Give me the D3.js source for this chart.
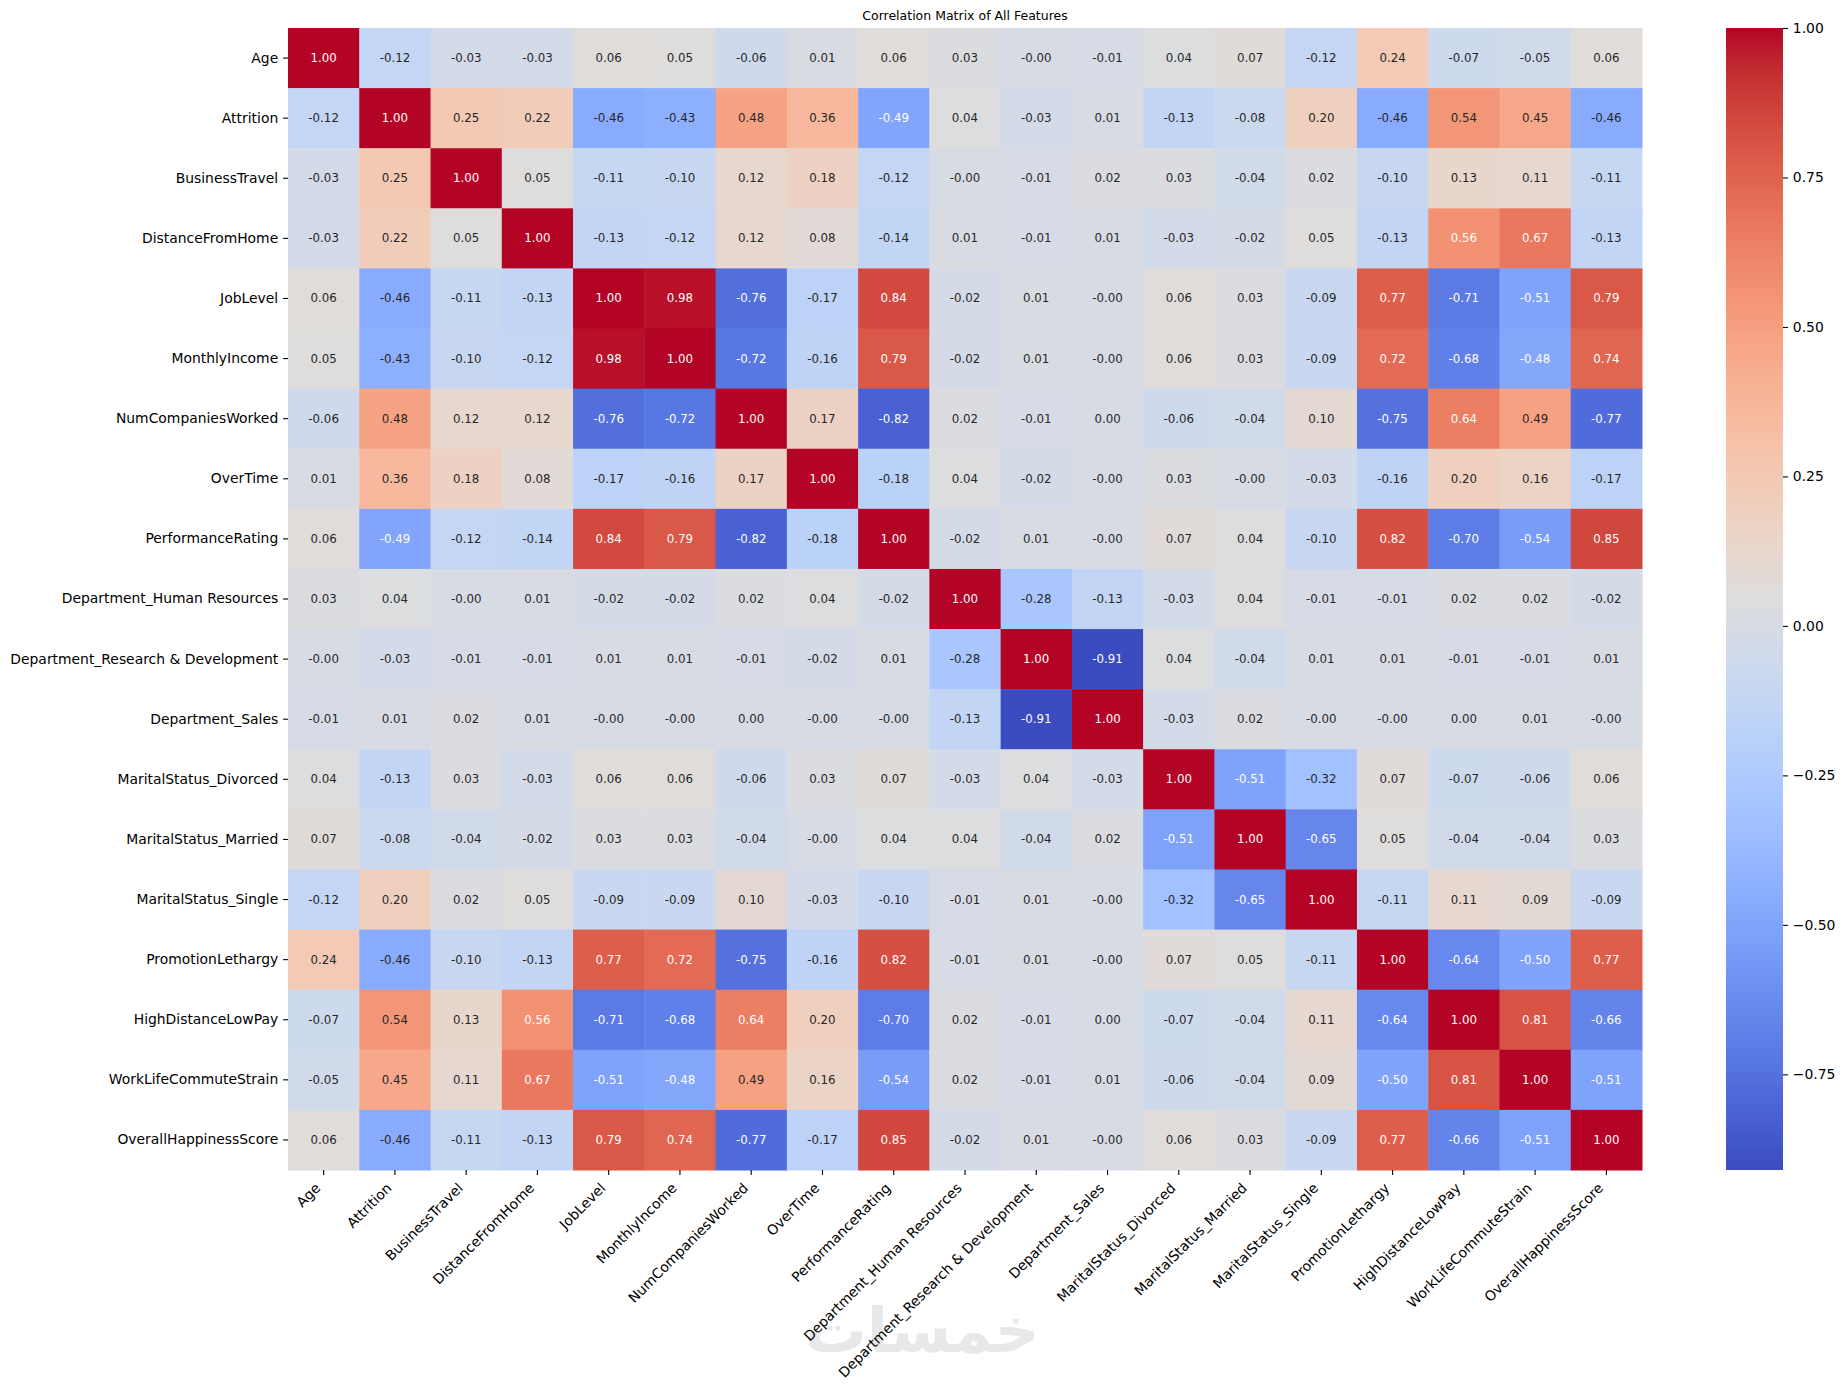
<!DOCTYPE html>
<html>
<head>
<meta charset="utf-8">
<script src="https://cdn.jsdelivr.net/npm/d3@7"></script>
<style>
  body { margin: 0; background: white; }
  svg { display: block; font-family: "DejaVu Sans", sans-serif; }
</style>
</head>
<body>
<svg></svg>
<script>
const features = [
  "Age", "Attrition", "BusinessTravel", "DistanceFromHome", "JobLevel",
  "MonthlyIncome", "NumCompaniesWorked", "OverTime", "PerformanceRating",
  "Department_Human Resources", "Department_Research & Development",
  "Department_Sales", "MaritalStatus_Divorced", "MaritalStatus_Married",
  "MaritalStatus_Single", "PromotionLethargy", "HighDistanceLowPay",
  "WorkLifeCommuteStrain", "OverallHappinessScore"
];

const corr = [
  [1.00, -0.12, -0.03, -0.03, 0.06, 0.05, -0.06, 0.01, 0.06, 0.03, -0.00, -0.01, 0.04, 0.07, -0.12, 0.24, -0.07, -0.05, 0.06],
  [-0.12, 1.00, 0.25, 0.22, -0.46, -0.43, 0.48, 0.36, -0.49, 0.04, -0.03, 0.01, -0.13, -0.08, 0.20, -0.46, 0.54, 0.45, -0.46],
  [-0.03, 0.25, 1.00, 0.05, -0.11, -0.10, 0.12, 0.18, -0.12, -0.00, -0.01, 0.02, 0.03, -0.04, 0.02, -0.10, 0.13, 0.11, -0.11],
  [-0.03, 0.22, 0.05, 1.00, -0.13, -0.12, 0.12, 0.08, -0.14, 0.01, -0.01, 0.01, -0.03, -0.02, 0.05, -0.13, 0.56, 0.67, -0.13],
  [0.06, -0.46, -0.11, -0.13, 1.00, 0.98, -0.76, -0.17, 0.84, -0.02, 0.01, -0.00, 0.06, 0.03, -0.09, 0.77, -0.71, -0.51, 0.79],
  [0.05, -0.43, -0.10, -0.12, 0.98, 1.00, -0.72, -0.16, 0.79, -0.02, 0.01, -0.00, 0.06, 0.03, -0.09, 0.72, -0.68, -0.48, 0.74],
  [-0.06, 0.48, 0.12, 0.12, -0.76, -0.72, 1.00, 0.17, -0.82, 0.02, -0.01, 0.00, -0.06, -0.04, 0.10, -0.75, 0.64, 0.49, -0.77],
  [0.01, 0.36, 0.18, 0.08, -0.17, -0.16, 0.17, 1.00, -0.18, 0.04, -0.02, -0.00, 0.03, -0.00, -0.03, -0.16, 0.20, 0.16, -0.17],
  [0.06, -0.49, -0.12, -0.14, 0.84, 0.79, -0.82, -0.18, 1.00, -0.02, 0.01, -0.00, 0.07, 0.04, -0.10, 0.82, -0.70, -0.54, 0.85],
  [0.03, 0.04, -0.00, 0.01, -0.02, -0.02, 0.02, 0.04, -0.02, 1.00, -0.28, -0.13, -0.03, 0.04, -0.01, -0.01, 0.02, 0.02, -0.02],
  [-0.00, -0.03, -0.01, -0.01, 0.01, 0.01, -0.01, -0.02, 0.01, -0.28, 1.00, -0.91, 0.04, -0.04, 0.01, 0.01, -0.01, -0.01, 0.01],
  [-0.01, 0.01, 0.02, 0.01, -0.00, -0.00, 0.00, -0.00, -0.00, -0.13, -0.91, 1.00, -0.03, 0.02, -0.00, -0.00, 0.00, 0.01, -0.00],
  [0.04, -0.13, 0.03, -0.03, 0.06, 0.06, -0.06, 0.03, 0.07, -0.03, 0.04, -0.03, 1.00, -0.51, -0.32, 0.07, -0.07, -0.06, 0.06],
  [0.07, -0.08, -0.04, -0.02, 0.03, 0.03, -0.04, -0.00, 0.04, 0.04, -0.04, 0.02, -0.51, 1.00, -0.65, 0.05, -0.04, -0.04, 0.03],
  [-0.12, 0.20, 0.02, 0.05, -0.09, -0.09, 0.10, -0.03, -0.10, -0.01, 0.01, -0.00, -0.32, -0.65, 1.00, -0.11, 0.11, 0.09, -0.09],
  [0.24, -0.46, -0.10, -0.13, 0.77, 0.72, -0.75, -0.16, 0.82, -0.01, 0.01, -0.00, 0.07, 0.05, -0.11, 1.00, -0.64, -0.50, 0.77],
  [-0.07, 0.54, 0.13, 0.56, -0.71, -0.68, 0.64, 0.20, -0.70, 0.02, -0.01, 0.00, -0.07, -0.04, 0.11, -0.64, 1.00, 0.81, -0.66],
  [-0.05, 0.45, 0.11, 0.67, -0.51, -0.48, 0.49, 0.16, -0.54, 0.02, -0.01, 0.01, -0.06, -0.04, 0.09, -0.50, 0.81, 1.00, -0.51],
  [0.06, -0.46, -0.11, -0.13, 0.79, 0.74, -0.77, -0.17, 0.85, -0.02, 0.01, -0.00, 0.06, 0.03, -0.09, 0.77, -0.66, -0.51, 1.00]
];

const colorbarTicks = [-0.75, -0.5, -0.25, 0, 0.25, 0.5, 0.75, 1.0];

// coolwarm (Moreland) control colours
const coolwarm = [
  [59, 76, 192], [68, 90, 204], [77, 104, 215], [87, 117, 225], [98, 130, 234],
  [108, 142, 241], [119, 154, 247], [130, 165, 251], [141, 176, 254], [152, 185, 255],
  [163, 194, 255], [174, 201, 253], [184, 208, 249], [194, 213, 244], [204, 217, 238],
  [213, 219, 230], [221, 221, 221], [229, 216, 209], [236, 211, 197], [241, 204, 184],
  [245, 196, 172], [247, 187, 160], [247, 177, 148], [247, 166, 135], [244, 154, 123],
  [241, 141, 111], [236, 127, 99], [229, 112, 88], [222, 96, 77], [213, 80, 66],
  [203, 62, 56], [192, 40, 47], [180, 4, 38]
];

const width = 1845;
const height = 1389;
const margin = { top: 28, left: 288 };
const plotWidth = 1354;
const plotHeight = 1142;

const svg = d3.select("svg").attr("width", width).attr("height", height);

const cmap = d3
  .scaleLinear()
  .domain(coolwarm.map((_, i) => i / (coolwarm.length - 1)))
  .range(coolwarm.map(c => d3.rgb(c[0], c[1], c[2])))
  .interpolate(d3.interpolateRgb)
  .clamp(true);

const flat = corr.flat();
const vmin = d3.min(flat);
const vmax = d3.max(flat);
const norm = d3.scaleLinear().domain([vmin, vmax]).range([0, 1]);
const color = v => cmap(norm(v));

function luminance(c) {
  const rgb = d3.rgb(c);
  const lin = [rgb.r, rgb.g, rgb.b].map(v => {
    v /= 255;
    return v <= 0.03928 ? v / 12.92 : Math.pow((v + 0.055) / 1.055, 2.4);
  });
  return 0.2126 * lin[0] + 0.7152 * lin[1] + 0.0722 * lin[2];
}

const fmt = v => (v < 0 || Object.is(v, -0) ? "-" : "") + Math.abs(v).toFixed(2);

const x = d3.scaleBand().domain(features).range([0, plotWidth]);
const y = d3.scaleBand().domain(features).range([0, plotHeight]);

// watermark sits behind the labels
svg
  .append("text")
  .attr("x", 922)
  .attr("y", 1352)
  .attr("text-anchor", "middle")
  .attr("font-size", 62)
  .attr("font-weight", "bold")
  .attr("fill", "#e8e8e8")
  .attr("direction", "rtl")
  .text("خمسات");

const plot = svg
  .append("g")
  .attr("transform", `translate(${margin.left},${margin.top})`);

const cells = [];
corr.forEach((row, i) =>
  row.forEach((v, j) => cells.push({ row: features[i], col: features[j], v }))
);

plot
  .selectAll("rect.cell")
  .data(cells)
  .join("rect")
  .classed("cell", true)
  .attr("x", d => x(d.col))
  .attr("y", d => y(d.row))
  .attr("width", x.bandwidth() + 0.5)
  .attr("height", y.bandwidth() + 0.5)
  .attr("fill", d => color(d.v));

plot
  .selectAll("text.annot")
  .data(cells)
  .join("text")
  .classed("annot", true)
  .attr("x", d => x(d.col) + x.bandwidth() / 2)
  .attr("y", d => y(d.row) + y.bandwidth() / 2)
  .attr("text-anchor", "middle")
  .attr("dominant-baseline", "central")
  .attr("font-size", 11.8)
  .attr("fill", d => (luminance(color(d.v)) > 0.408 ? "#262626" : "white"))
  .text(d => fmt(d.v));

const yAxis = plot
  .append("g")
  .call(d3.axisLeft(y).tickSize(4.9).tickPadding(4.9));
yAxis.select(".domain").remove();
yAxis.selectAll("line").attr("stroke-width", 1.1);
yAxis
  .selectAll("text")
  .attr("font-size", 13.9)
  .attr("font-family", "DejaVu Sans")
  .attr("fill", "black");

const xAxis = plot
  .append("g")
  .attr("transform", `translate(0,${plotHeight})`)
  .call(d3.axisBottom(x).tickSize(4.9).tickPadding(0));
xAxis.select(".domain").remove();
xAxis.selectAll("line").attr("stroke-width", 1.1);
xAxis
  .selectAll("text")
  .attr("font-size", 13.9)
  .attr("font-family", "DejaVu Sans")
  .attr("fill", "black")
  .attr("text-anchor", "end")
  .attr("dy", null)
  .attr("y", null)
  .attr("transform", "translate(-2.3,19) rotate(-45)");

svg
  .append("text")
  .attr("x", margin.left + plotWidth / 2)
  .attr("y", 20)
  .attr("text-anchor", "middle")
  .attr("font-size", 12.5)
  .attr("fill", "black")
  .text("Correlation Matrix of All Features");

// colorbar
const cbX = 1726;
const cbWidth = 57;
const cbScale = d3
  .scaleLinear()
  .domain([vmin, vmax])
  .range([margin.top + plotHeight, margin.top]);

const grad = svg
  .append("defs")
  .append("linearGradient")
  .attr("id", "cbgrad")
  .attr("x1", 0)
  .attr("y1", 1)
  .attr("x2", 0)
  .attr("y2", 0);
grad
  .selectAll("stop")
  .data(d3.range(0, 1.0001, 1 / 64))
  .join("stop")
  .attr("offset", t => t)
  .attr("stop-color", t => cmap(t));

svg
  .append("rect")
  .attr("x", cbX)
  .attr("y", margin.top)
  .attr("width", cbWidth)
  .attr("height", plotHeight)
  .attr("fill", "url(#cbgrad)");

const cbAxis = svg
  .append("g")
  .attr("transform", `translate(${cbX + cbWidth},0)`)
  .call(
    d3
      .axisRight(cbScale)
      .tickValues(colorbarTicks)
      .tickSize(4.9)
      .tickPadding(4.9)
      .tickFormat(d => (d < 0 ? "\u2212" : "") + Math.abs(d).toFixed(2))
  );
cbAxis.select(".domain").remove();
cbAxis.selectAll("line").attr("stroke-width", 1.1);
cbAxis
  .selectAll("text")
  .attr("font-size", 13.9)
  .attr("font-family", "DejaVu Sans")
  .attr("fill", "black");
</script>
</body>
</html>
